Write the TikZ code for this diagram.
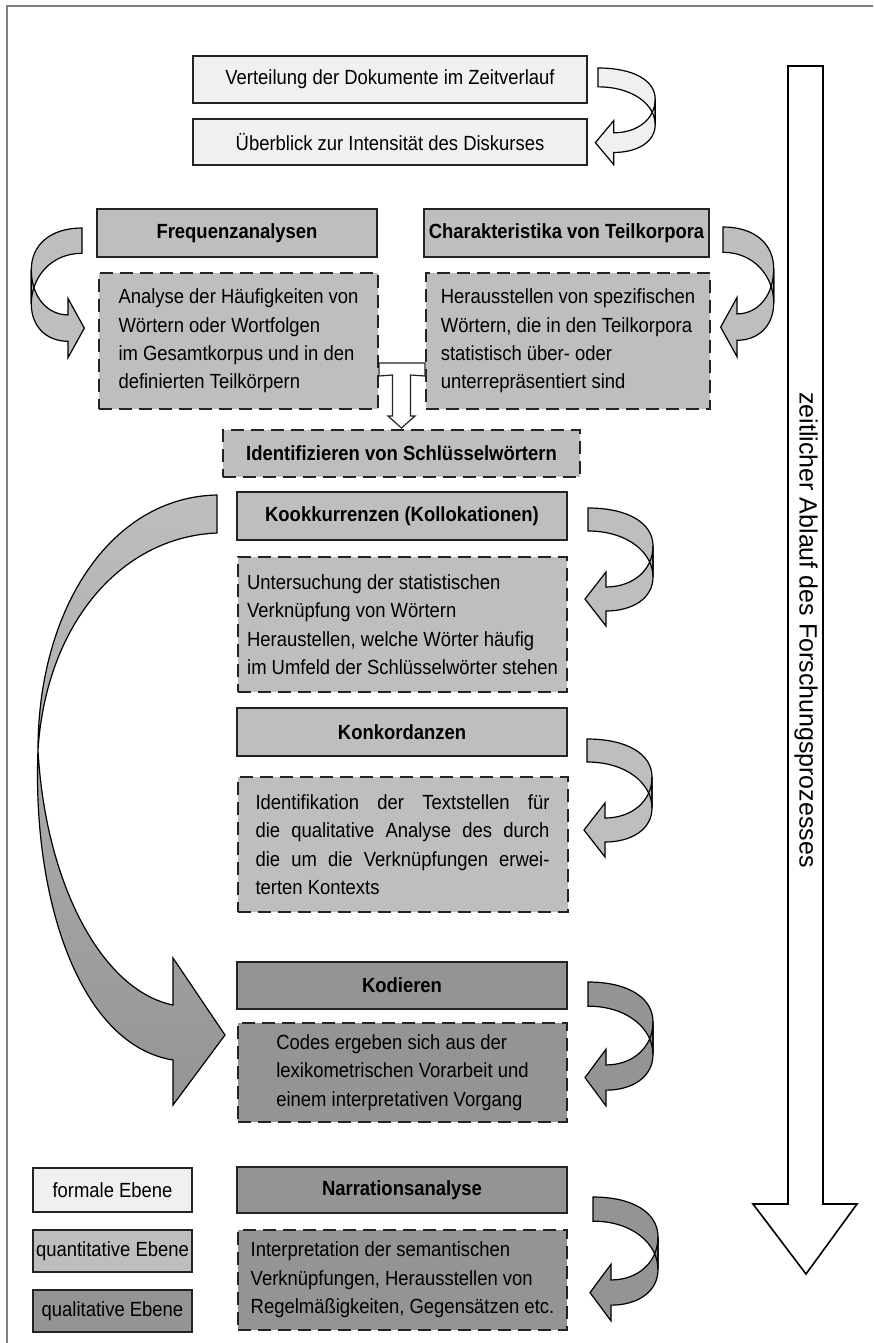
\documentclass[tikz,border=0pt]{standalone}
\usepackage{fontspec}
\setmainfont{Liberation Sans}[FakeStretch=0.9]
\newfontfamily\ablauffont{Liberation Sans}
\usetikzlibrary{calc,positioning}

\definecolor{formalgrau}{RGB}{240,240,240}
\definecolor{quantgrau}{RGB}{190,190,190}
\definecolor{qualgrau}{RGB}{148,148,148}
\definecolor{randgrau}{RGB}{128,128,128}
\definecolor{liniengrau}{RGB}{35,35,35}

\tikzset{
	box/.style={draw=liniengrau, line width=1pt, inner sep=0pt, minimum height=24pt, align=center, font=\fontsize{10.25}{14.2}\selectfont},
	titel/.style={box, font=\fontsize{10.25}{14.2}\selectfont\bfseries},
	inhalt/.style={box, dash pattern=on 6.5pt off 3.5pt, align=left},
	formal/.style={fill=formalgrau},
	quant/.style={fill=quantgrau},
	qual/.style={fill=qualgrau},
	wendepfeil/.style={fill=#1, draw=black, line width=0.6pt},
	pics/wende/.style={code={
		\foreach \act in {fill,draw}{
			\path[\act] (65,38) .. controls (65,62) and (45,79) .. (18,79) -- (18,64) -- (-3,91) -- (18,118) -- (18,103) .. controls (45,103) and (65,90) .. (65,69) -- cycle;
			\path[\act] (0,0) .. controls (40,0) and (65,15) .. (65,38) -- (65,69) .. controls (65,45) and (40,23) .. (0,23) -- cycle;
		}
	}}
}

\begin{document}
\begin{tikzpicture}[x=0.5pt, y=-0.5pt]
	\useasboundingbox (0,0) rectangle (873,1343);
	% Rahmen
	\draw[randgrau, line width=1pt] (7,1343) -- (7,6) -- (873,6);
	
	% formale Ebene
	\node[box, formal, minimum width=197pt, minimum height=23.5pt] (verteilung) at (390,79.5) {Verteilung der Dokumente im Zeitverlauf};
	\node[box, formal, minimum width=197pt, minimum height=23pt] (ueberblick) at (390,142) {Überblick zur Intensität des Diskurses};
	\pic[wendepfeil=formalgrau, xscale=0.88, yscale=0.82] at (598,68) {wende};
	
	% quantitative Ebene
	\node[titel, quant, minimum width=140pt] (frequenz) at (237,233) {Frequenzanalysen};
	\node[titel, quant, minimum width=142.5pt] (charakter) at (566.5,233) {Charakteristika von Teilkorpora};
	\node[inhalt, quant, minimum width=139.5pt, minimum height=68pt] (analyse) at (238.5,341) {Analyse der Häufigkeiten von\\Wörtern oder Wortfolgen\\im Gesamtkorpus und in den\\definierten Teilkörpern};
	\node[inhalt, quant, minimum width=142pt, minimum height=68pt] (heraus) at (568,341) {Herausstellen von spezifischen\\Wörtern, die in den Teilkorpora\\statistisch über- oder\\unterrepräsentiert sind};
	\pic[wendepfeil=quantgrau, xscale=-0.78, yscale=1.1] at (82,228) {wende};
	\pic[wendepfeil=quantgrau, xscale=0.78, yscale=1.1] at (723,227) {wende};
	
	\node[inhalt, titel, quant, dash pattern=on 6.5pt off 3.5pt, minimum width=178.5pt, minimum height=23.5pt] (schluessel) at (401.5,453.5) {Identifizieren von Schlüsselwörtern};
	
	% Zusammenfuehrung
	\coordinate (barl) at ($(analyse.east)+(0,22)$);
	\coordinate (barr) at ($(heraus.west)+(0,22)$);
	\draw[fill=white, draw=liniengrau, line width=0.6pt] (barl) -- (barr) -- ++(0,13) -- ($(schluessel.north)+(9,-54)$) -- ++(0,41) -- ++(4.5,0) -- ($(schluessel.north)+(0,-1)$) -- ++(-13.5,-12) -- ++(4.5,0) -- ++(0,-41) -- ($(barl)+(0,13)$) -- cycle;
	
	\node[titel, quant, minimum width=165pt] (kook) at (402,516) {Kookkurrenzen (Kollokationen)};
	\node[inhalt, quant, minimum width=164.5pt, minimum height=67.5pt] (untersuchung) at (402.5,624.5) {Untersuchung der statistischen\\Verknüpfung von Wörtern\\Heraustellen, welche Wörter häufig\\im Umfeld der Schlüsselwörter stehen};
	\pic[wendepfeil=quantgrau] at (588,508) {wende};
	
	\node[titel, quant, minimum width=165pt] (konk) at (402,732) {Konkordanzen};
	\node[inhalt, quant, text width=147pt, inner xsep=9pt, minimum height=67.5pt, align=justify] (identifikation) at (402.5,844.5) {Identifikation der Textstellen für\linebreak die qualitative Analyse des durch\linebreak die um die Verknüpfungen erwei-\linebreak terten Kontexts};
	\pic[wendepfeil=quantgrau] at (587,739) {wende};
	
	% qualitative Ebene
	\node[titel, qual, minimum width=165pt, minimum height=23.5pt] (kodieren) at (402,985.5) {Kodieren};
	\node[inhalt, qual, minimum width=164.5pt, minimum height=49.5pt] (codes) at (402.5,1072.5) {Codes ergeben sich aus der\\lexikometrischen Vorarbeit und\\einem interpretativen Vorgang};
	\pic[wendepfeil=qualgrau, yscale=1.05] at (588,982) {wende};
	
	\node[titel, qual, minimum width=165pt, minimum height=23pt] (narration) at (402,1190) {Narrationsanalyse};
	\node[inhalt, qual, minimum width=164.5pt, minimum height=50pt] (interpretation) at (402.5,1280) {Interpretation der semantischen\\Verknüpfungen, Herausstellen von\\Regelmäßigkeiten, Gegensätzen etc.};
	\pic[wendepfeil=qualgrau, yscale=1.05] at (593,1197) {wende};
	
	% grosser Pfeil von Schluesselwoertern zum Kodieren
	\path[draw=black, line width=0.6pt, top color=quantgrau, bottom color=qualgrau]
		(217,495) .. controls (110,497) and (38,610) .. (38,750)
		.. controls (46,625) and (120,537) .. (217,533) -- cycle
		(38,750) .. controls (45,880) and (100,990) .. (173,1005) -- (173,958) -- (225,1035) -- (173,1105) -- (173,1060)
		.. controls (80,1045) and (32,900) .. (38,750) -- cycle;
	
	% Legende
	\node[box, formal, minimum width=79.5pt, minimum height=22pt] (legformal) at (112.5,1190) {formale Ebene};
	\node[box, quant, minimum width=79.5pt, minimum height=21pt] (legquant) at (112.5,1251) {quantitative Ebene};
	\node[box, qual, minimum width=79.5pt, minimum height=21pt] (legqual) at (112.5,1311) {qualitative Ebene};
	
	% zeitlicher Ablauf
	\draw[fill=white, draw=black, line width=0.8pt] (788,66) -- (823,66) -- (823,1204) -- (857,1204) -- (806,1274) -- (753,1204) -- (788,1204) -- cycle;
	\node[rotate=-90, font=\ablauffont\fontsize{12.5}{15}\selectfont] (ablauf) at (806,630) {zeitlicher Ablauf des Forschungsprozesses};
\end{tikzpicture}
\end{document}
